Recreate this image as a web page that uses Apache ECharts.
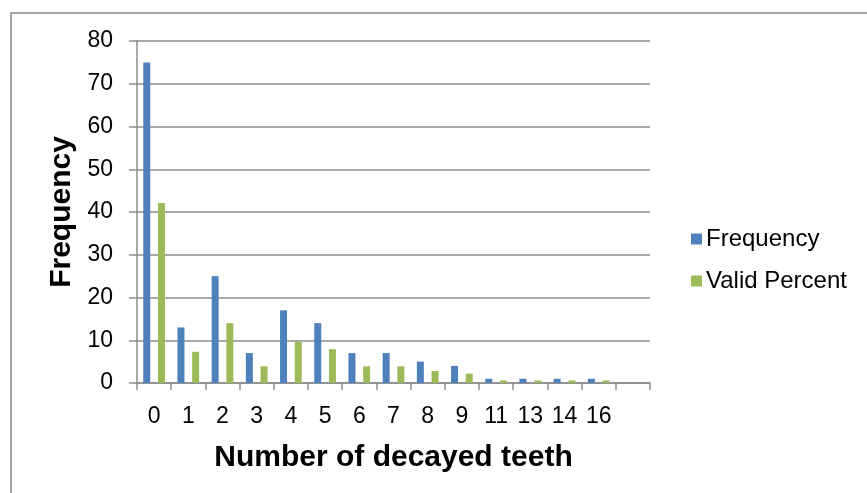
<!DOCTYPE html>
<html>
<head>
<meta charset="utf-8">
<script src="https://cdn.jsdelivr.net/npm/echarts@6/dist/echarts.min.js"></script>
<style>
  html, body { margin: 0; padding: 0; background: #fff; }
  #chart { width: 867px; height: 493px; }
</style>
</head>
<body>
<div id="chart"></div>
<script>
// Number of decayed teeth per child: counts and valid percentages
const teethCategories = ['0', '1', '2', '3', '4', '5', '6', '7', '8', '9', '11', '13', '14', '16', ''];
const frequencyValues = [75, 13, 25, 7, 17, 14, 7, 7, 5, 4, 1, 1, 1, 1, null];
const validPercentValues = [42.1, 7.3, 14.0, 3.9, 9.6, 7.9, 3.9, 3.9, 2.8, 2.2, 0.6, 0.6, 0.6, 0.6, null];
const yTicks = { min: 0, max: 80, interval: 10 };

const FONT = '"Liberation Sans", Arial, sans-serif';
const GRID_GRAY = '#8c8c8c';

const chart = echarts.init(document.getElementById('chart'), null, { renderer: 'canvas' });

chart.setOption({
  backgroundColor: '#fff',
  animation: false,
  textStyle: { fontFamily: FONT },
  graphic: [{
    type: 'rect',
    shape: { x: 11, y: 13, width: 900, height: 520 },
    style: { fill: 'none', stroke: '#8a8a8a', lineWidth: 1.5 },
    silent: true
  }],
  grid: { left: 137, top: 41, right: 217, bottom: 110, containLabel: false },
  legend: {
    orient: 'vertical',
    left: 686,
    top: 222,
    itemWidth: 11,
    itemHeight: 11,
    itemGap: 18,
    icon: 'rect',
    textStyle: { fontFamily: FONT, fontSize: 24, color: '#000', padding: [0, 0, 0, -1] },
    data: ['Frequency', 'Valid Percent']
  },
  xAxis: {
    type: 'category',
    data: teethCategories,
    boundaryGap: true,
    name: 'Number of decayed teeth',
    nameLocation: 'middle',
    nameGap: 60,
    nameTextStyle: { fontFamily: FONT, fontSize: 30, fontWeight: 'bold', color: '#000' },
    axisLine: { show: true, lineStyle: { color: GRID_GRAY, width: 1.5 } },
    axisTick: { show: true, interval: 0, length: 7, lineStyle: { color: GRID_GRAY, width: 1.5 } },
    axisLabel: { interval: 0, margin: 22, fontFamily: FONT, fontSize: 23, color: '#000' },
    splitLine: { show: false }
  },
  yAxis: {
    type: 'value',
    min: yTicks.min,
    max: yTicks.max,
    interval: yTicks.interval,
    name: 'Frequency',
    nameLocation: 'middle',
    nameGap: 60,
    nameTextStyle: { fontFamily: FONT, fontSize: 30, fontWeight: 'bold', color: '#000' },
    axisLine: { show: true, lineStyle: { color: GRID_GRAY, width: 1.5 } },
    axisTick: { show: true, length: 8, lineStyle: { color: GRID_GRAY, width: 1.5 } },
    axisLabel: { margin: 24, fontFamily: FONT, fontSize: 23, color: '#000' },
    splitLine: { show: true, lineStyle: { color: GRID_GRAY, width: 1.5 } }
  },
  series: [
    {
      name: 'Frequency',
      type: 'bar',
      data: frequencyValues,
      barWidth: 7,
      barGap: '110%',
      itemStyle: { color: '#4F81BD' }
    },
    {
      name: 'Valid Percent',
      type: 'bar',
      data: validPercentValues,
      barWidth: 7,
      barGap: '110%',
      itemStyle: { color: '#9BBB59' }
    }
  ]
});
</script>
</body>
</html>
